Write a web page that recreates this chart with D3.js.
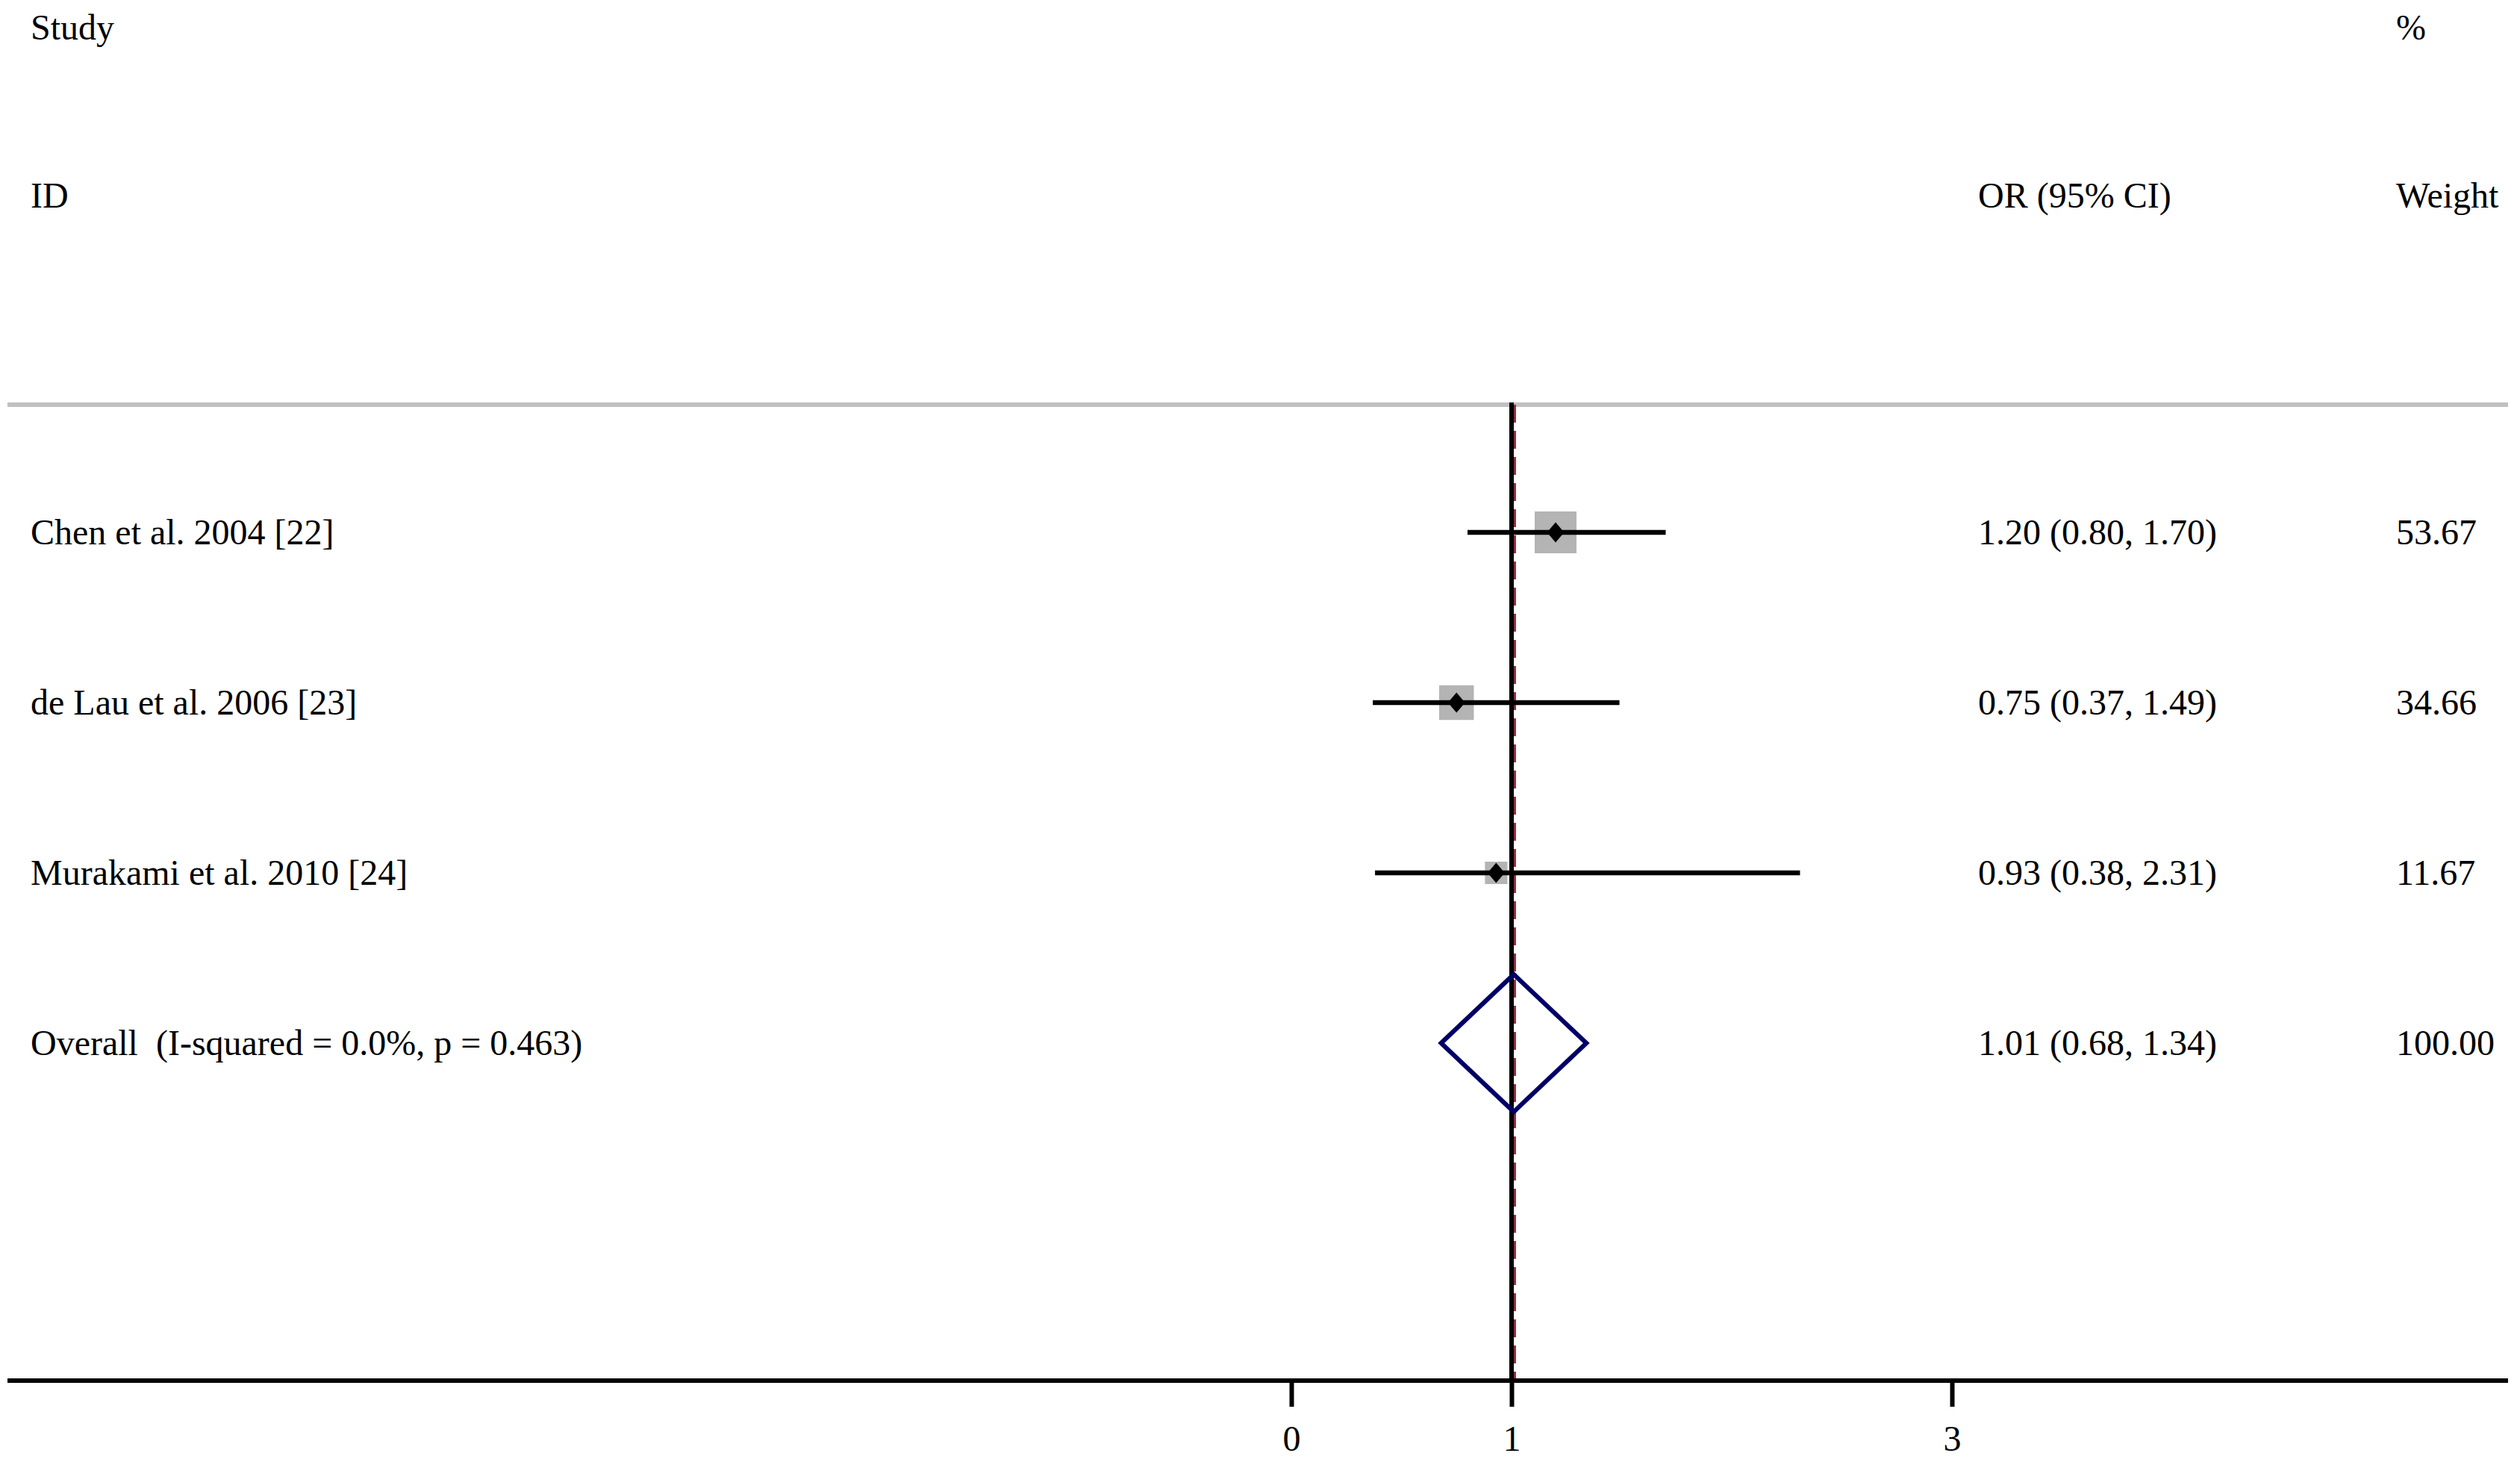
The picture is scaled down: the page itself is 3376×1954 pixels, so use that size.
<!DOCTYPE html>
<html>
<head>
<meta charset="utf-8">
<script src="https://cdn.jsdelivr.net/npm/d3@7"></script>
<style>
  html, body { margin: 0; padding: 0; background: #ffffff; }
  svg { display: block; }
  text { font-family: "Liberation Serif", "Times New Roman", serif; }
</style>
</head>
<body>
<script>
// ---------- data ----------
const studies   = ["Chen et al. 2004 [22]", "de Lau et al. 2006 [23]", "Murakami et al. 2010 [24]"];
const orValues  = [1.20, 0.75, 0.93];
const ciLower   = [0.80, 0.37, 0.38];
const ciUpper   = [1.70, 1.49, 2.31];
const weights   = [53.67, 34.66, 11.67];

const overallLabel  = "Overall  (I-squared = 0.0%, p = 0.463)";
const overallOR     = 1.01;
const overallLower  = 0.68;
const overallUpper  = 1.34;
const overallWeight = 100.00;

const xTicks = [0, 1, 3];
const headerLeft  = ["Study", "ID"];
const headerMid   = ["", "OR (95% CI)"];
const headerRight = ["%", "Weight"];

// ---------- layout ----------
const W = 3376, H = 1954;
const FS = 48;
const svg = d3.select("body").append("svg").attr("width", W).attr("height", H);
svg.append("rect").attr("width", W).attr("height", H).attr("fill", "#ffffff");

const x = d3.scaleLinear().domain([0, 3]).range([1730, 2615]);
const y = d3.scaleLinear().domain([3, 6]).range([713, 1397]); // row index -> y
const boxSide = d3.scaleLinear().domain([0, 10]).range([7.3, 73.8]); // sqrt(weight) -> side

const leftX = 41, midX = 2650, rightX = 3210;
const lineTop = 542, axisY = 1849, plotLeft = 10, plotRight = 3360;
const fmt = d3.format(".2f");

// headers
const headerBaselines = [53, 278];
headerLeft.forEach((t, i) => svg.append("text").attr("x", leftX).attr("y", headerBaselines[i]).attr("font-size", FS).text(t));
headerMid.forEach((t, i) => svg.append("text").attr("x", midX).attr("y", headerBaselines[i]).attr("font-size", FS).text(t));
headerRight.forEach((t, i) => svg.append("text").attr("x", rightX).attr("y", headerBaselines[i]).attr("font-size", FS).text(t));

// gray separator
svg.append("line").attr("x1", plotLeft).attr("x2", plotRight).attr("y1", lineTop).attr("y2", lineTop)
  .attr("stroke", "#c0c0c0").attr("stroke-width", 6);

// overall effect dashed line
svg.append("line").attr("x1", x(overallOR)).attr("x2", x(overallOR)).attr("y1", lineTop).attr("y2", axisY)
  .attr("stroke", "#8e2f3c").attr("stroke-width", 6).attr("stroke-dasharray", "24,11");

// null line
svg.append("line").attr("x1", x(1)).attr("x2", x(1)).attr("y1", lineTop - 3).attr("y2", axisY)
  .attr("stroke", "#000000").attr("stroke-width", 6);

const rows = studies.map((s, i) => ({
  label: s, or: orValues[i], lo: ciLower[i], hi: ciUpper[i], w: weights[i], row: 3 + i
}));

// weight boxes
svg.selectAll("rect.box").data(rows).enter().append("rect").attr("class", "box")
  .attr("x", d => x(d.or) - boxSide(Math.sqrt(d.w)) / 2)
  .attr("y", d => y(d.row) - boxSide(Math.sqrt(d.w)) / 2)
  .attr("width", d => boxSide(Math.sqrt(d.w)))
  .attr("height", d => boxSide(Math.sqrt(d.w)))
  .attr("fill", "#b4b4b4");

// CI lines
svg.selectAll("line.ci").data(rows).enter().append("line").attr("class", "ci")
  .attr("x1", d => x(d.lo)).attr("x2", d => x(d.hi))
  .attr("y1", d => y(d.row)).attr("y2", d => y(d.row))
  .attr("stroke", "#000000").attr("stroke-width", 6.5);

// point markers
const mw = 11.5, mh = 13.5;
svg.selectAll("path.pt").data(rows).enter().append("path").attr("class", "pt")
  .attr("d", d => {
    const cx = x(d.or), cy = y(d.row);
    return `M${cx},${cy - mh}L${cx + mw},${cy}L${cx},${cy + mh}L${cx - mw},${cy}Z`;
  })
  .attr("fill", "#000000");

// overall diamond
const oy = y(6), dh = 92;
svg.append("path")
  .attr("d", `M${x(overallLower)},${oy}L${x(overallOR)},${oy - dh}L${x(overallUpper)},${oy}L${x(overallOR)},${oy + dh}Z`)
  .attr("fill", "none").attr("stroke", "#000066").attr("stroke-width", 6).attr("stroke-linejoin", "miter");

// labels and values
const allRows = rows.concat([{ label: overallLabel, or: overallOR, lo: overallLower, hi: overallUpper, w: overallWeight, row: 6 }]);
svg.selectAll("text.lab").data(allRows).enter().append("text").attr("class", "lab")
  .attr("x", leftX).attr("y", d => y(d.row) + 16).attr("font-size", FS)
  .style("white-space", "pre").text(d => d.label);
svg.selectAll("text.est").data(allRows).enter().append("text").attr("class", "est")
  .attr("x", midX).attr("y", d => y(d.row) + 16).attr("font-size", FS)
  .text(d => `${fmt(d.or)} (${fmt(d.lo)}, ${fmt(d.hi)})`);
svg.selectAll("text.wt").data(allRows).enter().append("text").attr("class", "wt")
  .attr("x", rightX).attr("y", d => y(d.row) + 16).attr("font-size", FS)
  .text(d => fmt(d.w));

// x axis
svg.append("line").attr("x1", plotLeft).attr("x2", plotRight).attr("y1", axisY).attr("y2", axisY)
  .attr("stroke", "#000000").attr("stroke-width", 6);
const axis = d3.axisBottom(x).tickValues(xTicks).tickFormat(d3.format("d")).tickSize(35).tickPadding(25);
const ag = svg.append("g").attr("transform", `translate(0,${axisY})`).call(axis);
ag.select(".domain").remove();
ag.selectAll(".tick line").attr("stroke", "#000000").attr("stroke-width", 6);
ag.selectAll(".tick text").attr("font-size", FS).attr("fill", "#000000")
  .attr("font-family", "'Liberation Serif', 'Times New Roman', serif");
</script>
</body>
</html>
